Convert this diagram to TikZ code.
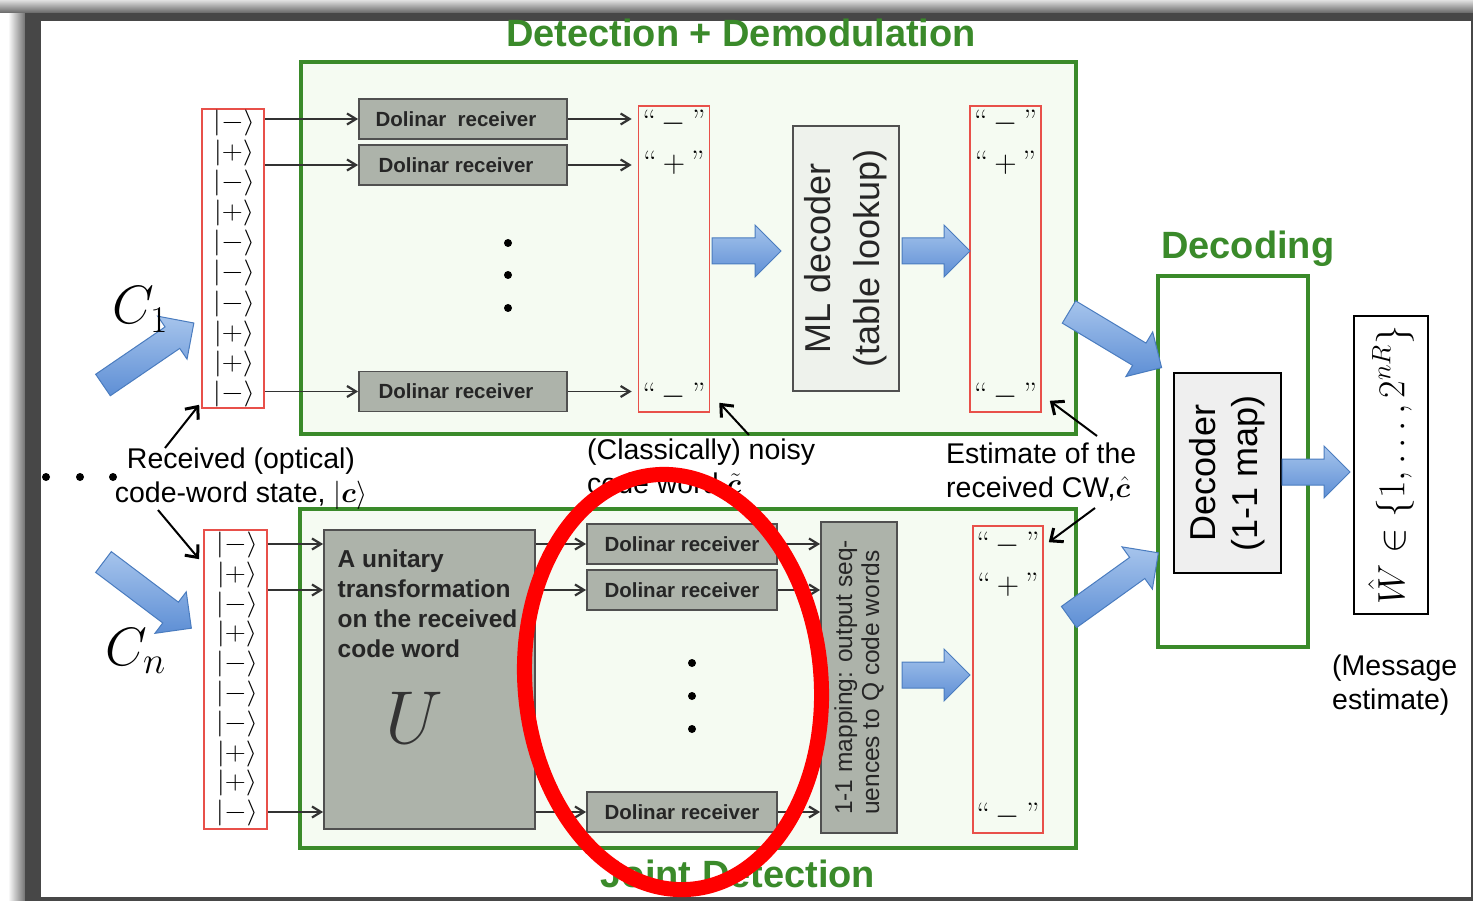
\RequirePackage{fix-cm}
\documentclass[tikz,border=0pt]{standalone}
\usepackage[no-math]{fontspec}
\usepackage{bm}
\usepackage{graphicx}
\newfontfamily\arial{Liberation Sans}
\usetikzlibrary{arrows.meta}

\definecolor{grn}{HTML}{3A8A2A}
\definecolor{grnfill}{HTML}{F5FBF2}
\definecolor{gbox}{HTML}{ADB3AA}
\definecolor{gline}{HTML}{505050}
\definecolor{mlfill}{HTML}{EEF2EC}
\definecolor{decfill}{HTML}{EFEFEF}
\definecolor{redbox}{HTML}{E8504A}
\definecolor{blueA}{HTML}{A6C4EC}
\definecolor{blueB}{HTML}{5E8FD5}
\definecolor{blueL}{HTML}{4A7CBF}
\definecolor{framec}{HTML}{474747}

\tikzset{
  stage/.style={draw=grn, line width=4pt, fill=grnfill, inner sep=0pt},
  stagetitle/.style={font=\arial\bfseries\fontsize{38}{44}\selectfont, text=grn, inner sep=0pt},
  ketbox/.style={draw=redbox, line width=1.6pt, inner sep=0pt},
  ket/.style={font=\fontsize{26}{30}\selectfont, inner sep=0pt},
  qcell/.style={font=\fontsize{31}{36}\selectfont, inner sep=0pt, anchor=base},
  graybox/.style={draw=gline, line width=1.8pt, fill=gbox, inner sep=0pt, text=black!85},
  dolinar/.style={graybox, font=\arial\bfseries\fontsize{20.5}{24}\selectfont},
  wire/.style={draw=black!80, line width=1.8pt, -{Straight Barb[length=9pt,width=11pt,line width=2.2pt]}},
  pointer/.style={draw=black, line width=2pt, -{Straight Barb[length=10pt,width=17pt,line width=3pt]}},
  note/.style={font=\arial\fontsize{28.5}{34}\selectfont, inner sep=0pt},
  blob/.style={circle, fill=black, inner sep=0pt, minimum size=8pt},
  blockarr/.style={draw=blueL, line width=1pt, top color=blueA, bottom color=blueB},
}

% block arrow: tail centre, direction angle, length
\newcommand\blockarrow[3]{%
  \begin{scope}[shift={(#1)},rotate=#2]
    \path[blockarr] (0,-13) -- ({#3-26},-13) -- ({#3-26},-26) -- (#3,0)
      -- ({#3-26},26) -- ({#3-26},13) -- (0,13) -- cycle;
  \end{scope}}

\newcommand\qminus{“\hspace{6pt}$-$\hspace{6pt}”}
\newcommand\qplus{“\hspace{6pt}$+$\hspace{6pt}”}

\begin{document}
\begin{tikzpicture}[x=1pt,y=-1pt]
\useasboundingbox (0,0) rectangle (1473,901);

% window frame
\fill[white] (0,0) rectangle (1473,901);
\shade[left color=white, right color=black!55] (8,0) rectangle (25,901);
\shade[top color=black!12, bottom color=black!60] (0,0) rectangle (1473,13);
\fill[framec] (25,13) rectangle (1473,901);
\fill[white] (41,21) rectangle (1471,897);

% stages
\node[stage, minimum width=775pt, minimum height=371.5pt] (det) at (688.5,247.75) {};
\node[stage, minimum width=776pt, minimum height=339pt] (joint) at (688,678.5) {};
\node[stage, fill=white, minimum width=150pt, minimum height=371pt] (decst) at (1233,461.5) {};

\node[stagetitle, anchor=base] (detT) at (741,47) {Detection + Demodulation};
\node[stagetitle, anchor=base] (jointT) at (738,887) {Joint Detection};
\node[stagetitle, anchor=base west] (decT) at (1161,259) {Decoding};

% received code-word states
\node[ketbox, minimum width=62pt, minimum height=299pt] (K1) at (233,258.5) {};
\node[ketbox, minimum width=63pt, minimum height=299pt] (K2) at (235.5,679.5) {};
\foreach \s [count=\i] in {-,+,-,+,-,-,-,+,+,-} {
  \node[ket] (ka\i) at (234,{123+30.1*(\i-1)}) {\scalebox{1.12}[1]{$|\s\rangle$}};
  \node[ket] (kb\i) at (237,{545+29.8*(\i-1)}) {\scalebox{1.12}[1]{$|\s\rangle$}};
}

% upper chain: separate Dolinar receivers
\node[dolinar, minimum width=208pt, minimum height=40pt] (d1) at (463,119) {Dolinar\ \ receiver\hspace*{14pt}};
\node[dolinar, minimum width=208pt, minimum height=40pt] (d2) at (463,165) {Dolinar receiver\hspace*{14pt}};
\node[dolinar, minimum width=208pt, minimum height=40pt] (d3) at (463,391.5) {Dolinar receiver\hspace*{14pt}};
\node[blob] (v1) at (508,243) {};
\node[blob] (v2) at (508,275) {};
\node[blob] (v3) at (508,308) {};

\node[ketbox, minimum width=71pt, minimum height=306pt] (M1) at (674,259) {};
\node[qcell] (m1a) at (674,132) {\qminus};
\node[qcell] (m1b) at (674,173) {\qplus};
\node[qcell] (m1c) at (674,404) {\qminus};

\node[draw=gline, line width=1.8pt, fill=mlfill, rotate=90, inner sep=0pt,
      minimum width=265pt, minimum height=106pt, align=center,
      font=\arial\fontsize{36}{49}\selectfont, text=black!85] (ml) at (846,258.5)
      {ML decoder\\(table lookup)};

\node[ketbox, minimum width=71pt, minimum height=306pt] (M2) at (1005.5,259) {};
\node[qcell] (m2a) at (1005.5,132) {\qminus};
\node[qcell] (m2b) at (1005.5,173) {\qplus};
\node[qcell] (m2c) at (1005.5,404) {\qminus};

\draw[wire] (K1.east |- d1.west) -- (d1.west);
\draw[wire] (K1.east |- d2.west) -- (d2.west);
\draw[wire] (K1.east |- d3.west) -- (d3.west);
\draw[wire, shorten >=6pt] (d1.east) -- (d1.east -| M1.west);
\draw[wire, shorten >=6pt] (d2.east) -- (d2.east -| M1.west);
\draw[wire, shorten >=6pt] (d3.east) -- (d3.east -| M1.west);

% lower chain: joint detection
\node[graybox, minimum width=211pt, minimum height=299pt] (U) at (429.5,679.5) {};
\node[anchor=north west, align=left, inner sep=0pt, text=black!85,
      font=\arial\bfseries\fontsize{24.5}{30}\selectfont] (Utxt) at (337.5,550)
      {A unitary\\transformation\\on the received\\code word};
\node[anchor=base, inner sep=0pt, text=black!80, font=\fontsize{75}{80}\selectfont] (Usym) at (414,743) {$U$};

\node[dolinar, minimum width=190pt, minimum height=40pt] (d4) at (682,544) {Dolinar receiver};
\node[dolinar, minimum width=190pt, minimum height=40pt] (d5) at (682,590) {Dolinar receiver};
\node[dolinar, minimum width=190pt, minimum height=40pt] (d6) at (682,812) {Dolinar receiver};
\node[blob] (v4) at (692,663) {};
\node[blob] (v5) at (692,696) {};
\node[blob] (v6) at (692,729) {};

\node[graybox, rotate=90, minimum width=311pt, minimum height=76pt, align=left,
      font=\arial\fontsize{24.5}{27}\selectfont] (map) at (859,677.5)
      {1-1 mapping: output seq-\\uences to Q code words};

\node[ketbox, minimum width=70pt, minimum height=307pt] (M3) at (1008,679.5) {};
\node[qcell] (m3a) at (1008,553) {\qminus};
\node[qcell] (m3b) at (1008,594) {\qplus};
\node[qcell] (m3c) at (1008,824) {\qminus};

\draw[wire] (K2.east |- d4.west) -- (U.west |- d4.west);
\draw[wire] (K2.east |- d5.west) -- (U.west |- d5.west);
\draw[wire] (K2.east |- d6.west) -- (U.west |- d6.west);
\draw[wire] (U.east |- d4.west) -- (d4.west);
\draw[wire] (U.east |- d5.west) -- (d5.west);
\draw[wire] (U.east |- d6.west) -- (d6.west);
\draw[wire] (d4.east) -- (d4.east -| map.north);
\draw[wire] (d5.east) -- (d5.east -| map.north);
\draw[wire] (d6.east) -- (d6.east -| map.north);

% decoding
\node[draw=black, line width=1.8pt, fill=decfill, rotate=90, inner sep=0pt,
      minimum width=200pt, minimum height=107pt, align=center,
      font=\arial\fontsize{36}{42}\selectfont] (dec) at (1227.5,473)
      {Decoder\\(1-1 map)};
\node[draw=black, line width=2pt, fill=white, rotate=90, inner sep=0pt,
      minimum width=298pt, minimum height=74pt,
      font=\fontsize{38}{44}\selectfont] (what) at (1391,465)
      {$\hat{W}\in\{1,\ldots,2^{nR}\}$};

% block arrows
\blockarrow{103,385}{34.3}{110}
\blockarrow{103.5,562}{-37}{110}
\blockarrow{712,251}{0}{69}
\blockarrow{902,251}{0}{68}
\blockarrow{902,675}{0}{68}
\blockarrow{1069,312}{-31}{108}
\blockarrow{1069,617}{35.7}{110}
\blockarrow{1282,472}{0}{68}

% channel labels and remarks
\node[anchor=base west, inner sep=0pt, font=\fontsize{54}{60}\selectfont] (c1) at (112,324) {$C_1$};
\node[anchor=base west, inner sep=0pt, font=\fontsize{54}{60}\selectfont] (cn) at (105,665) {$C_n$};
\node[blob] (h1) at (46,477) {};
\node[blob] (h2) at (80,477) {};
\node[blob] (h3) at (113,477) {};

\node[note, align=center, anchor=base] (recv) at (241,502)
  {Received (optical)\\code-word state, $|\bm{c}\rangle$};
\node[note, align=left, anchor=base west] (noisy) at (587,493)
  {(Classically) noisy\\code word $\tilde{\bm{c}}$};
\node[note, align=left, anchor=base west] (est) at (946,497)
  {Estimate of the\\received CW,$\hat{\bm{c}}$};
\node[note, align=left, anchor=base west] (msg) at (1332,709)
  {(Message\\estimate)};

\coordinate (r1) at (165,448);
\coordinate (r2) at (158,510);
\coordinate (n1) at (749,435);
\coordinate (e1) at (1097,436);
\coordinate (e2) at (1095,508);
\draw[pointer] (r1) -- ([xshift=-2pt,yshift=4pt]K1.south west);
\draw[pointer] (r2) -- ([xshift=-4pt,yshift=-30pt]K2.north west);
\draw[pointer] (n1) -- ([xshift=9pt,yshift=10pt]M1.south east);
\draw[pointer] (e1) -- ([xshift=8pt,yshift=12pt]M2.south east);
\draw[pointer] (e2) -- ([xshift=5pt,yshift=-17pt]M3.north east);

% highlight ring
\draw[red, line width=15pt, rotate around={5:(673,682)}] (673,682) ellipse [x radius=148, y radius=208];
\end{tikzpicture}
\end{document}
